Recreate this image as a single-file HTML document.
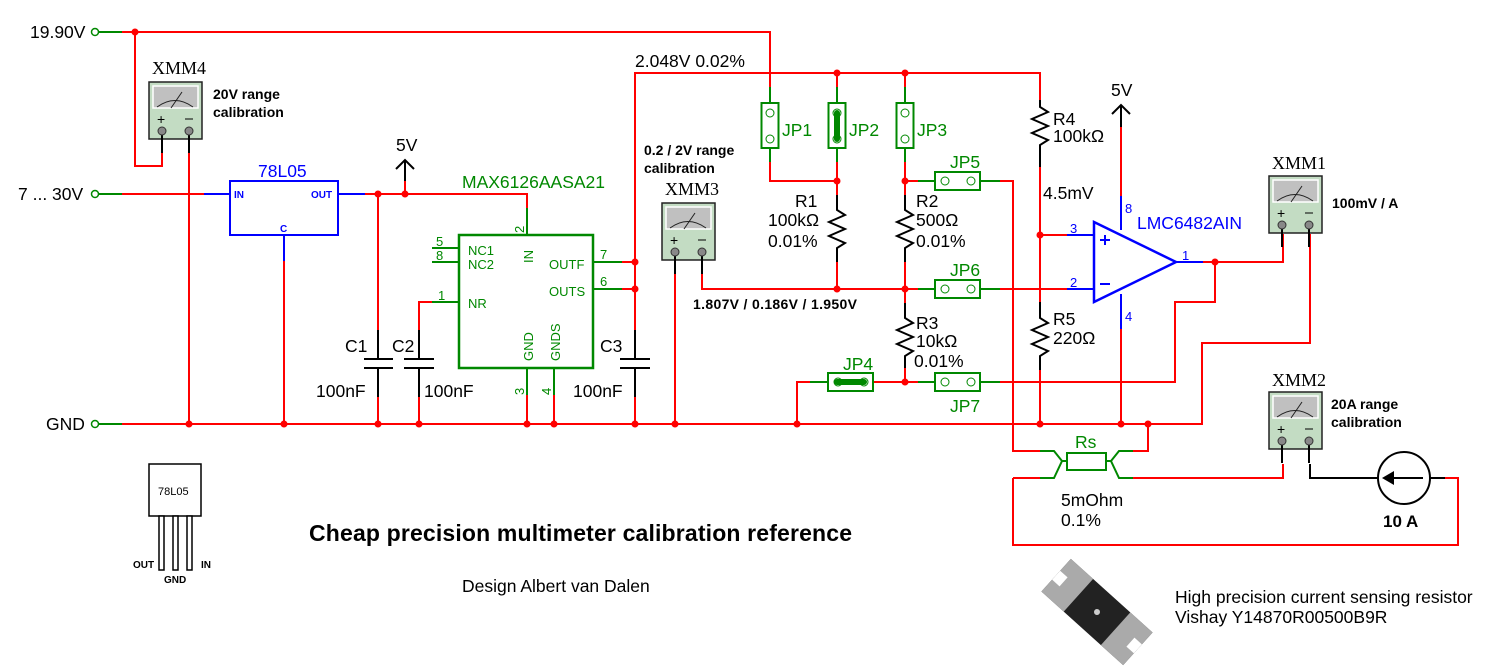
<!DOCTYPE html>
<html><head><meta charset="utf-8"><style>
html,body{margin:0;padding:0;background:#fff;}
svg{display:block;}
text{font-family:"Liberation Sans",sans-serif;}
.r{stroke:#f00;stroke-width:2;fill:none;}
.g{stroke:#080;stroke-width:2;fill:none;}
.k{stroke:#000;stroke-width:2;fill:none;}
.b{stroke:#00f;stroke-width:2;fill:none;}
.t{font-size:17.5px;fill:#000;}
.gt{font-size:17.5px;fill:#080;}
.bt{font-size:17.5px;fill:#00f;}
.bold{font-size:14px;font-weight:bold;fill:#000;}
.mm{font-family:"Liberation Serif",serif;font-size:18px;fill:#000;}
.pn{font-size:13px;fill:#080;}
.pb{font-size:13px;fill:#00f;}
</style></head><body>
<svg width="1499" height="672" viewBox="0 0 1499 672" xmlns="http://www.w3.org/2000/svg">
<defs>
<g id="meter">
<rect x="0" y="0" width="53" height="57" fill="#c3dcc3" stroke="#222" stroke-width="1.5"/>
<rect x="4" y="4" width="45" height="22" fill="#c0c0c0" stroke="#fff" stroke-width="1.5"/>
<path d="M8,25 Q26,12 44,25" stroke="#222" stroke-width="1" fill="none"/>
<line x1="22" y1="26" x2="33" y2="10" stroke="#222" stroke-width="1"/>
<text x="8" y="42" font-size="14" fill="#000">+</text>
<line x1="36" y1="37" x2="44" y2="37" stroke="#000" stroke-width="1"/>
<line x1="13" y1="49" x2="13" y2="71" stroke="#000" stroke-width="2"/>
<line x1="40" y1="49" x2="40" y2="71" stroke="#000" stroke-width="2"/>
<circle cx="13" cy="49" r="4" fill="#888" stroke="#333" stroke-width="1"/>
<circle cx="40" cy="49" r="4" fill="#888" stroke="#333" stroke-width="1"/>
</g>
<g id="jv"><rect x="-8.5" y="0" width="17" height="45" fill="#fff" stroke="#080" stroke-width="2"/><circle cx="0" cy="10" r="4" fill="none" stroke="#080" stroke-width="1"/><circle cx="0" cy="36" r="4" fill="none" stroke="#080" stroke-width="1"/></g>
<g id="jh"><rect x="0" y="-9" width="45" height="18" fill="#fff" stroke="#080" stroke-width="2"/><circle cx="10" cy="0" r="4" fill="none" stroke="#080" stroke-width="1"/><circle cx="36" cy="0" r="4" fill="none" stroke="#080" stroke-width="1"/></g>
</defs>

<text x="30" y="38" class="t">19.90V</text>
<text x="18" y="200" class="t">7 ... 30V</text>
<text x="46" y="430" class="t">GND</text>
<circle cx="95" cy="32" r="3.5" fill="#fff" stroke="#080" stroke-width="1.5"/>
<circle cx="95" cy="194" r="3.5" fill="#fff" stroke="#080" stroke-width="1.5"/>
<circle cx="95" cy="424" r="3.5" fill="#fff" stroke="#080" stroke-width="1.5"/>
<path class="g" d="M99,32H122M99,194H122M99,424H122"/>

<path class="r" d="M122,32H770V87M135,32V166H162V153"/>
<use href="#meter" x="149" y="82"/>
<text x="152" y="74" class="mm">XMM4</text>
<text x="213" y="99" class="bold">20V range</text>
<text x="213" y="117" class="bold">calibration</text>
<path class="r" d="M189,153V424"/>

<path class="r" d="M122,194H204"/>
<path class="b" d="M204,194H230M338,194H365M284,235V261"/>
<rect x="230" y="181" width="108" height="54" fill="none" stroke="#00f" stroke-width="2"/>
<text x="258" y="177" class="bt">78L05</text>
<text x="234" y="198" font-size="10" font-weight="bold" fill="#00f">IN</text>
<text x="311" y="198" font-size="10" font-weight="bold" fill="#00f">OUT</text>
<text x="280" y="232" font-size="10" font-weight="bold" fill="#00f">C</text>
<path class="r" d="M284,261V424M365,194H527V208"/>
<path class="g" d="M527,208V235"/>
<path class="r" d="M405,194V181"/>
<path class="k" d="M405,181V160M396,169L405,160L414,169"/>
<text x="396" y="151" class="t">5V</text>

<path class="r" d="M378,194V330M378,397V424"/>
<path class="k" d="M378,330V359M378,368V397M364,359H393M364,368H393"/>
<text x="345" y="352" class="t">C1</text>
<text x="316" y="397" class="t">100nF</text>
<path class="r" d="M419,330V302H432M419,397V424"/>
<path class="g" d="M432,302H459M432,248H459M432,262H459"/>
<path class="k" d="M419,330V359M419,368V397M404,359H434M404,368H434"/>
<text x="392" y="352" class="t">C2</text>
<text x="424" y="397" class="t">100nF</text>

<rect x="459" y="235" width="134" height="133" fill="none" stroke="#080" stroke-width="2.5"/>
<text x="462" y="188" class="gt">MAX6126AASA21</text>
<text x="436" y="246" class="pn">5</text>
<text x="436" y="260" class="pn">8</text>
<text x="438" y="300" class="pn">1</text>
<text x="468" y="255" class="pn" font-size="15">NC1</text>
<text x="468" y="269" class="pn" font-size="15">NC2</text>
<text x="468" y="308" class="pn" font-size="15">NR</text>
<text x="549" y="269" class="pn" font-size="15">OUTF</text>
<text x="549" y="296" class="pn" font-size="15">OUTS</text>
<text transform="translate(533,263) rotate(-90)" class="pn" font-size="15">IN</text>
<text transform="translate(533,361) rotate(-90)" class="pn" font-size="15">GND</text>
<text transform="translate(560,361) rotate(-90)" class="pn" font-size="15">GNDS</text>
<text transform="translate(524,233) rotate(-90)" class="pn">2</text>
<text transform="translate(524,395) rotate(-90)" class="pn">3</text>
<text transform="translate(551,395) rotate(-90)" class="pn">4</text>
<text x="600" y="259" class="pn">7</text>
<text x="600" y="286" class="pn">6</text>
<path class="g" d="M593,262H622M593,289H622M527,368V395M554,368V395"/>
<path class="r" d="M622,262H635M622,289H635M527,395V424M554,395V424"/>
<path class="r" d="M635,330V73H1040V100M635,397V424"/>
<path class="k" d="M635,330V359M635,368V397M620,359H650M620,368H650"/>
<text x="600" y="352" class="t">C3</text>
<text x="573" y="397" class="t">100nF</text>
<text x="635" y="67" class="t">2.048V 0.02%</text>

<path class="r" d="M122,424H1202V343H1310V234"/>

<use href="#meter" x="662" y="203"/>
<text x="665" y="195" class="mm">XMM3</text>
<text x="644" y="155" class="bold">0.2 / 2V range</text>
<text x="644" y="173" class="bold">calibration</text>
<path class="r" d="M675,274V424M702,274V289H905"/>
<text x="693" y="309" class="bold" textLength="164">1.807V / 0.186V /  1.950V</text>

<path class="g" d="M770,87V103M770,148V162M837,87V103M837,148V162M905,87V103M905,148V162"/>
<path class="r" d="M837,73V87M905,73V87M770,162V181H837V162M905,162V195"/>
<use href="#jv" x="770" y="103"/>
<use href="#jv" x="837" y="103"/>
<use href="#jv" x="905" y="103"/>
<rect x="834" y="110" width="6" height="32" rx="3" fill="#080"/>
<text x="782" y="136" class="gt">JP1</text>
<text x="849" y="136" class="gt">JP2</text>
<text x="917" y="136" class="gt">JP3</text>

<path class="r" d="M837,181V195M837,262V289"/>
<path class="k" d="M837,195V210L845,215L829,222L845,229L829,236L845,243L837,248V262"/>
<text x="795" y="207" class="t">R1</text>
<text x="768" y="226" class="t">100kΩ</text>
<text x="768" y="247" class="t">0.01%</text>
<path class="k" d="M905,195V210L913,215L897,222L913,229L897,236L913,243L905,248V262"/>
<path class="r" d="M905,262V303"/>
<path class="k" d="M905,303V318L913,323L897,330L913,337L897,344L913,351L905,356V368"/>
<path class="r" d="M905,368V382"/>
<text x="916" y="207" class="t">R2</text>
<text x="916" y="226" class="t">500Ω</text>
<text x="916" y="247" class="t">0.01%</text>
<text x="916" y="329" class="t">R3</text>
<text x="916" y="347" class="t">10kΩ</text>
<text x="914" y="367" class="t">0.01%</text>

<path class="r" d="M905,181H918M905,289H918M905,382H918"/>
<path class="g" d="M918,181H935M980,181H1000M918,289H935M980,289H1000M918,382H935M980,382H1000"/>
<use href="#jh" x="935" y="181"/>
<use href="#jh" x="935" y="289"/>
<use href="#jh" x="935" y="382"/>
<text x="950" y="168" class="gt">JP5</text>
<text x="950" y="276" class="gt">JP6</text>
<text x="950" y="412" class="gt">JP7</text>
<path class="r" d="M1000,181H1013V451H1040M1000,289H1067M1000,382H1175V302H1215V262"/>
<path class="r" d="M797,424V382H810M873,382H905"/>
<path class="g" d="M810,382H828"/>
<use href="#jh" x="828" y="382"/>
<rect x="834" y="379" width="33" height="6" rx="3" fill="#080"/>
<text x="843" y="370" class="gt">JP4</text>

<path class="k" d="M1040,100V107L1048,112L1032,119L1048,126L1032,133L1048,140L1040,145V167"/>
<path class="r" d="M1040,167V302"/>
<path class="k" d="M1040,302V318L1048,323L1032,330L1048,337L1032,344L1048,351L1040,356V370"/>
<path class="r" d="M1040,370V424M1040,235H1067"/>
<text x="1053" y="125" class="t">R4</text>
<text x="1053" y="142" class="t">100kΩ</text>
<text x="1043" y="199" class="t">4.5mV</text>
<text x="1053" y="325" class="t">R5</text>
<text x="1053" y="344" class="t">220Ω</text>

<path class="b" d="M1067,235H1094M1067,289H1094M1121,196V230M1121,294V329M1176,262H1203"/>
<path d="M1094,222L1176,262L1094,302Z" fill="none" stroke="#00f" stroke-width="2.5"/>
<path class="b" d="M1100,240H1110M1105,235V245M1100,284H1110"/>
<path class="r" d="M1121,196V127M1121,329V424M1203,262H1283V234"/>
<path class="k" d="M1121,127V105M1112,114L1121,105L1130,114"/>
<text x="1111" y="96" class="t">5V</text>
<text x="1137" y="229" class="bt">LMC6482AIN</text>
<text x="1125" y="213" class="pb">8</text>
<text x="1125" y="321" class="pb">4</text>
<text x="1070" y="233" class="pb">3</text>
<text x="1070" y="287" class="pb">2</text>
<text x="1182" y="260" class="pb">1</text>

<use href="#meter" x="1269" y="176"/>
<text x="1272" y="169" class="mm">XMM1</text>
<text x="1332" y="208" class="bold">100mV / A</text>

<path class="r" d="M1148,424V451H1133M1013,478V545H1458V478H1445M1133,478H1283V464"/>
<path class="g" d="M1040,451H1054L1062,461L1054,478H1040M1133,451H1119L1111,461L1119,478H1133M1062,461H1067M1106,461H1111"/>
<rect x="1067" y="453" width="39" height="17" fill="#fff" stroke="#080" stroke-width="2"/>
<path class="r" d="M1013,478H1040"/>
<text x="1075" y="448" class="gt">Rs</text>
<text x="1061" y="506" class="t">5mOhm</text>
<text x="1061" y="526" class="t">0.1%</text>

<use href="#meter" x="1269" y="392"/>
<text x="1272" y="386" class="mm">XMM2</text>
<text x="1331" y="409" class="bold">20A range</text>
<text x="1331" y="427" class="bold">calibration</text>
<path class="k" d="M1310,464V478H1378M1430,478H1445"/>
<circle cx="1404" cy="478" r="26" fill="none" stroke="#000" stroke-width="2"/>
<path class="k" d="M1392,478H1423"/>
<path d="M1382,478L1394,471V485Z" fill="#000"/>
<text x="1383" y="527" font-size="17" font-weight="bold" fill="#000">10 A</text>

<text x="309" y="541" font-size="23" font-weight="bold" fill="#000" textLength="543">Cheap precision multimeter calibration reference</text>
<text x="462" y="592" font-size="17.5" fill="#000">Design Albert van Dalen</text>
<text x="1175" y="603" font-size="17.5" fill="#000">High precision current sensing resistor</text>
<text x="1175" y="623" font-size="17.5" fill="#000">Vishay Y14870R00500B9R</text>

<rect x="149" y="464" width="52" height="52" fill="#fff" stroke="#000" stroke-width="1.5"/>
<text x="158" y="495" font-size="11" font-family="Liberation Mono" fill="#000">78L05</text>
<rect x="159" y="516" width="5" height="54" fill="#fff" stroke="#000" stroke-width="1.5"/>
<rect x="173" y="516" width="5" height="54" fill="#fff" stroke="#000" stroke-width="1.5"/>
<rect x="187" y="516" width="5" height="54" fill="#fff" stroke="#000" stroke-width="1.5"/>
<text x="133" y="568" font-size="10" font-weight="bold" fill="#000">OUT</text>
<text x="164" y="583" font-size="10" font-weight="bold" fill="#000">GND</text>
<text x="201" y="568" font-size="10" font-weight="bold" fill="#000">IN</text>

<g transform="translate(1097,612) rotate(42)">
<rect x="-55" y="-22" width="110" height="44" fill="#222"/>
<rect x="-55" y="-22" width="30" height="44" fill="#aaa"/>
<rect x="25" y="-22" width="30" height="44" fill="#aaa"/>
<rect x="-55" y="-6" width="10" height="12" fill="#fff"/>
<rect x="45" y="-6" width="10" height="12" fill="#fff"/>
<circle cx="0" cy="0" r="3" fill="#ccc"/>
</g>

<g fill="#f00">
<circle cx="135" cy="32" r="3.5"/>
<circle cx="378" cy="194" r="3.5"/><circle cx="405" cy="194" r="3.5"/>
<circle cx="189" cy="424" r="3.5"/><circle cx="284" cy="424" r="3.5"/><circle cx="378" cy="424" r="3.5"/><circle cx="419" cy="424" r="3.5"/>
<circle cx="527" cy="424" r="3.5"/><circle cx="554" cy="424" r="3.5"/><circle cx="635" cy="424" r="3.5"/><circle cx="675" cy="424" r="3.5"/><circle cx="797" cy="424" r="3.5"/>
<circle cx="635" cy="262" r="3.5"/><circle cx="635" cy="289" r="3.5"/>
<circle cx="837" cy="73" r="3.5"/><circle cx="905" cy="73" r="3.5"/>
<circle cx="837" cy="181" r="3.5"/><circle cx="905" cy="181" r="3.5"/>
<circle cx="837" cy="289" r="3.5"/><circle cx="905" cy="289" r="3.5"/><circle cx="905" cy="382" r="3.5"/>
<circle cx="1040" cy="235" r="3.5"/><circle cx="1040" cy="424" r="3.5"/><circle cx="1121" cy="424" r="3.5"/><circle cx="1148" cy="424" r="3.5"/>
<circle cx="1215" cy="262" r="3.5"/>
</g>
</svg>
</body></html>
